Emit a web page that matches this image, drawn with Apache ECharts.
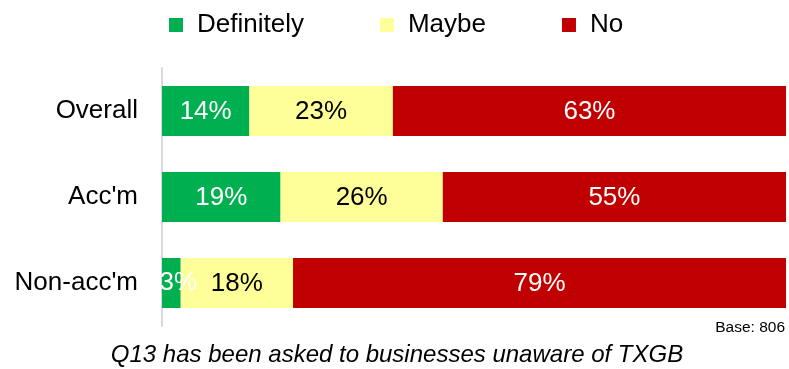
<!DOCTYPE html>
<html>
<head>
<meta charset="utf-8">
<script src="https://cdn.jsdelivr.net/npm/echarts@6/dist/echarts.min.js"></script>
<style>
  html, body { margin: 0; padding: 0; background: #ffffff; }
  #chart { width: 789px; height: 369px; }
</style>
</head>
<body>
<div id="chart"></div>
<script>
// Segments of each row, in percent
const categories = ["Overall", "Acc'm", "Non-acc'm"];
const definitely = [14, 19, 3];
const maybe = [23, 26, 18];
const no = [63, 55, 79];
const seriesNames = ["Definitely", "Maybe", "No"];
const baseNote = "Base: 806";
const caption = "Q13 has been asked to businesses unaware of TXGB";

const FONT = "'Liberation Sans', Arial, sans-serif";
const colors = ["#00b050", "#ffff99", "#c00000"];
const labelColors = ["#ffffff", "#000000", "#ffffff"];

const chart = echarts.init(document.getElementById('chart'), null, { renderer: 'canvas' });

function makeSeries(name, values, idx) {
  return {
    name: name,
    type: 'bar',
    stack: 'total',
    barWidth: 50,
    data: values.map(function (v, i) {
      const item = { value: v };
      // the narrow Non-acc'm segment carries its label slightly to the right
      if (idx === 0 && i === 2) {
        item.label = { offset: [7, 0] };
      }
      return item;
    }),
    itemStyle: { color: colors[idx] },
    label: {
      show: true,
      position: 'inside',
      formatter: '{c}%',
      color: labelColors[idx],
      fontFamily: FONT,
      fontSize: 26,
      offset: [0, 1]
    },
    emphasis: { disabled: true }
  };
}

chart.setOption({
  animation: false,
  textStyle: { fontFamily: FONT },
  legend: {
    left: 164,
    top: 7,
    itemWidth: 14,
    itemHeight: 14,
    itemGap: 76,
    icon: 'rect',
    textStyle: { fontFamily: FONT, fontSize: 26, color: '#000000', padding: [0, 0, 0, 9] },
    data: seriesNames
  },
  grid: { left: 162, right: 3, top: 68, height: 258, containLabel: false },
  xAxis: {
    type: 'value',
    min: 0,
    max: 100,
    show: false
  },
  yAxis: {
    type: 'category',
    inverse: true,
    data: categories,
    axisLine: { show: true, lineStyle: { color: '#d9d9d9', width: 2 } },
    axisTick: { show: false },
    axisLabel: { fontFamily: FONT, fontSize: 26, color: '#000000', margin: 24 }
  },
  series: [
    makeSeries(seriesNames[0], definitely, 0),
    makeSeries(seriesNames[1], maybe, 1),
    makeSeries(seriesNames[2], no, 2)
  ],
  graphic: [
    {
      type: 'text',
      x: 785,
      y: 328,
      style: {
        text: baseNote,
        fill: '#000000',
        font: '15.5px ' + FONT,
        align: 'right',
        verticalAlign: 'middle'
      }
    },
    {
      type: 'text',
      x: 397,
      y: 355,
      style: {
        text: caption,
        fill: '#000000',
        font: 'italic 24px ' + FONT,
        align: 'center',
        verticalAlign: 'middle'
      }
    }
  ]
});
</script>
</body>
</html>
